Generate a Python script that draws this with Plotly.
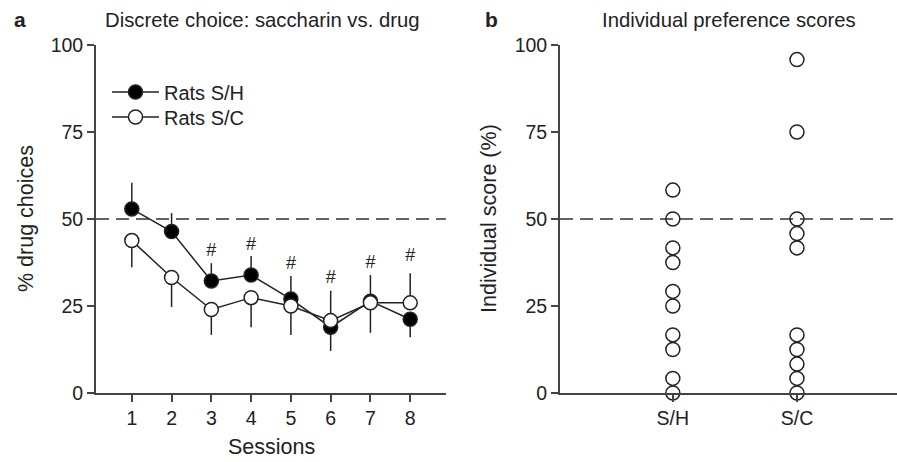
import plotly.graph_objects as go

# ---- Data ----
sessions = [1, 2, 3, 4, 5, 6, 7, 8]
sh_mean = [52.9, 46.4, 32.2, 33.9, 27.0, 18.9, 26.4, 21.2]
sh_err_up = [7.5, 5.3, 5.1, 5.5, 6.6, 0, 7.5, 0]
sh_err_down = [0, 0, 0, 0, 0, 6.8, 0, 5.2]
sc_mean = [43.8, 33.2, 24.0, 27.4, 25.0, 20.8, 25.9, 25.9]
sc_err_up = [0, 0, 0, 0, 0, 8.6, 0, 8.5]
sc_err_down = [7.7, 8.5, 7.3, 8.5, 8.3, 0, 8.6, 0]
hash_sessions = [3, 4, 5, 6, 7, 8]
hash_y = [40.6, 42.5, 36.8, 33.0, 37.3, 39.2]

groups = ["S/H", "S/C"]
scores_sh = [58.3, 50.0, 41.7, 37.5, 29.2, 25.0, 16.7, 12.5, 4.2, 0.0]
scores_sc = [95.8, 75.0, 50.0, 45.8, 41.7, 16.7, 12.5, 8.3, 4.2, 0.0]

y_ticks = [0, 25, 50, 75, 100]
chance_level = 50

# ---- Styling ----
FONT = "Liberation Sans, Arial, sans-serif"
INK = "#222222"
AXIS = "#444444"
W, H = 897, 462

def px_x(p):
    return p / W

def px_y(p):
    return 1 - p / H

fig = go.Figure()

fig.add_trace(go.Scatter(
    x=sessions, y=sh_mean, mode="lines+markers", name="Rats S/H",
    line=dict(color=INK, width=1.5),
    marker=dict(symbol="circle", size=14, color="black", line=dict(color=INK, width=1.5)),
    error_y=dict(type="data", symmetric=False, array=sh_err_up, arrayminus=sh_err_down,
                 width=0, thickness=1.5, color=INK),
    cliponaxis=False, xaxis="x", yaxis="y", legend="legend",
))
fig.add_trace(go.Scatter(
    x=sessions, y=sc_mean, mode="lines+markers", name="Rats S/C",
    line=dict(color=INK, width=1.5),
    marker=dict(symbol="circle", size=14, color="white", line=dict(color=INK, width=1.5)),
    error_y=dict(type="data", symmetric=False, array=sc_err_up, arrayminus=sc_err_down,
                 width=0, thickness=1.5, color=INK),
    cliponaxis=False, xaxis="x", yaxis="y", legend="legend2",
))
fig.add_trace(go.Scatter(
    x=hash_sessions, y=hash_y, mode="text", text=["#"] * len(hash_sessions),
    textfont=dict(family=FONT, size=18, color=INK), showlegend=False,
    hoverinfo="skip", xaxis="x", yaxis="y",
))

fig.add_trace(go.Scatter(
    x=[groups[0]] * len(scores_sh) + [groups[1]] * len(scores_sc),
    y=scores_sh + scores_sc, mode="markers", showlegend=False,
    marker=dict(symbol="circle-open", size=14, color=INK, line=dict(width=1.5)),
    cliponaxis=False, xaxis="x2", yaxis="y2",
))

ydom = [px_y(393), px_y(45)]
axis_common = dict(
    showline=True, linecolor=AXIS, linewidth=1.8, ticks="outside",
    ticklen=7, tickwidth=1.5, tickcolor=AXIS, showgrid=False, zeroline=False,
    tickfont=dict(family=FONT, size=19.5, color=INK), automargin=False,
)

legend_common = dict(xanchor="left", yanchor="top", itemwidth=47,
                     font=dict(family=FONT, size=20, color=INK),
                     bgcolor="rgba(0,0,0,0)")

fig.update_layout(
    width=W, height=H, margin=dict(l=0, r=0, t=0, b=0),
    paper_bgcolor="white", plot_bgcolor="white",
    font=dict(family=FONT, color=INK),
    xaxis=dict(domain=[px_x(96), px_x(446)], range=[0.1, 8.9], tickvals=sessions,
               anchor="y", **axis_common),
    yaxis=dict(domain=ydom, range=[0, 100], tickvals=y_ticks, anchor="x", **axis_common),
    xaxis2=dict(domain=[px_x(560), 1.0], range=[-0.909, 1.806], type="category",
                categoryorder="array", categoryarray=groups, anchor="y2", **axis_common),
    yaxis2=dict(domain=ydom, range=[0, 100], tickvals=y_ticks, anchor="x2", **axis_common),
    legend=dict(x=px_x(107), y=px_y(72.5), **legend_common),
    legend2=dict(x=px_x(107), y=px_y(97.5), **legend_common),
    showlegend=True,
)

for xr, yr in (("x domain", "y"), ("x2 domain", "y2")):
    fig.add_shape(type="line", xref=xr, yref=yr, x0=0, x1=1, y0=chance_level, y1=chance_level,
                  line=dict(color="#333333", width=1.5, dash="13px,7px"), layer="below")

ann = [
    dict(text="<b>a</b>", x=px_x(12), y=px_y(20), size=21),
    dict(text="Discrete choice: saccharin vs. drug", x=px_x(262), y=px_y(20), size=20.3, center=True),
    dict(text="<b>b</b>", x=px_x(483), y=px_y(20), size=21),
    dict(text="Individual preference scores", x=px_x(729), y=px_y(20), size=20.3, center=True),
    dict(text="Sessions", x=px_x(271), y=px_y(447), size=21.5, center=True),
    dict(text="% drug choices", x=px_x(26), y=px_y(219), size=21.5, center=True, angle=-90),
    dict(text="Individual score (%)", x=px_x(489), y=px_y(219), size=21.5, center=True, angle=-90),
]
for a in ann:
    fig.add_annotation(
        text=a["text"], x=a["x"], y=a["y"], xref="paper", yref="paper",
        xanchor="center" if a.get("center") else "left", yanchor="middle",
        showarrow=False, textangle=a.get("angle", 0),
        font=dict(family=FONT, size=a["size"], color=INK),
    )

fig.write_html("out.html")
